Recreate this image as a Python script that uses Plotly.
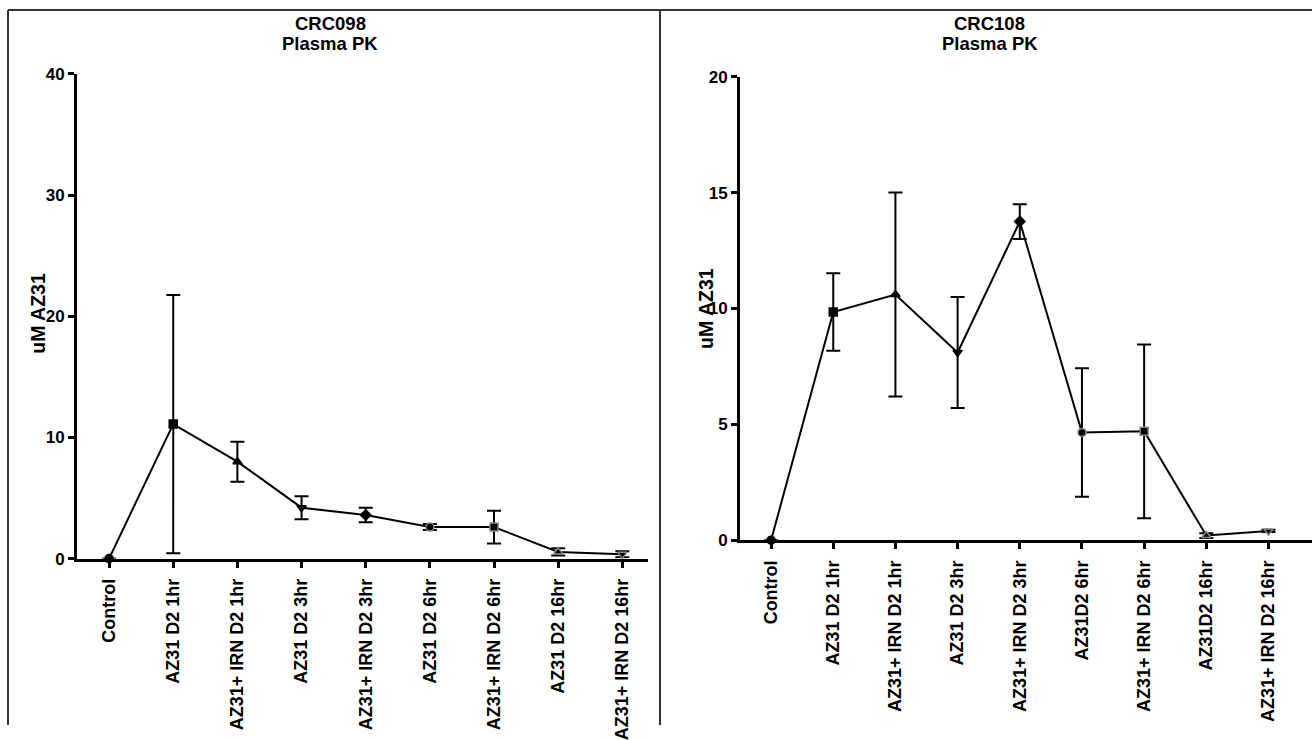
import plotly.graph_objects as go

W, H = 1312, 740

# ---- data ----
left_categories = ["Control", "AZ31 D2 1hr", "AZ31+ IRN D2 1hr", "AZ31 D2 3hr",
                   "AZ31+ IRN D2 3hr", "AZ31 D2 6hr", "AZ31+ IRN D2 6hr",
                   "AZ31 D2 16hr", "AZ31+ IRN D2 16hr"]
left_values = [0.0, 11.1, 8.0, 4.2, 3.6, 2.6, 2.6, 0.55, 0.35]
left_errors = [0.0, 10.65, 1.65, 0.95, 0.6, 0.25, 1.35, 0.3, 0.25]

right_categories = ["Control", "AZ31 D2 1hr", "AZ31+ IRN D2 1hr", "AZ31 D2 3hr",
                    "AZ31+ IRN D2 3hr", "AZ31D2 6hr", "AZ31+ IRN D2 6hr",
                    "AZ31D2 16hr", "AZ31+ IRN D2 16hr"]
right_values = [0.0, 9.85, 10.6, 8.1, 13.75, 4.65, 4.7, 0.2, 0.4]
right_errors = [0.0, 1.67, 4.4, 2.4, 0.75, 2.77, 3.75, 0.1, 0.05]

left_yticks = [0, 10, 20, 30, 40]
right_yticks = [0, 5, 10, 15, 20]

symbols = ["circle", "square", "triangle-up", "triangle-down", "diamond",
           "circle", "square", "triangle-up", "triangle-down"]
outline = ["black"] * 5 + ["#888888"] * 4

FONT = "Liberation Sans, Arial, sans-serif"


def px_x(x):
    return x / W


def px_y(y):
    return 1 - y / H


fig = go.Figure()

for cats, vals, errs, xa, ya in [
    (left_categories, left_values, left_errors, "x", "y"),
    (right_categories, right_values, right_errors, "x2", "y2"),
]:
    fig.add_trace(go.Scatter(
        x=cats, y=vals, xaxis=xa, yaxis=ya,
        mode="lines+markers",
        line=dict(color="black", width=2),
        marker=dict(symbol=symbols, size=8, color="black",
                    line=dict(color=outline, width=1.5)),
        error_y=dict(type="data", array=errs, visible=True,
                     color="black", thickness=2, width=7),
        cliponaxis=False, showlegend=False,
    ))

axis_common = dict(
    showline=True, linecolor="black", linewidth=3,
    ticks="outside", ticklen=6, tickwidth=3, tickcolor="black",
    showgrid=False, zeroline=False,
)
yfont = dict(family=FONT, size=17, color="black", weight="bold")
xfont = dict(family=FONT, size=18, color="black", weight="bold")

fig.update_layout(
    width=W, height=H,
    margin=dict(l=0, r=0, t=0, b=0),
    paper_bgcolor="white", plot_bgcolor="white",
    xaxis=dict(domain=[px_x(77), px_x(648)], anchor="y", type="category",
               range=[-0.5, 8.4], tickangle=-90, tickfont=xfont,
               ticklabelstandoff=4, **axis_common),
    yaxis=dict(domain=[px_y(568), px_y(67)], anchor="x",
               range=[0, 40], tickvals=left_yticks, tickfont=yfont, **axis_common),
    xaxis2=dict(domain=[px_x(740), 1.0], anchor="y2", type="category",
                range=[-0.5, 8.7], tickangle=-90, tickfont=xfont,
                ticklabelstandoff=4, **axis_common),
    yaxis2=dict(domain=[px_y(549), px_y(70)], anchor="x2",
                range=[0, 20], tickvals=right_yticks, tickfont=yfont, **axis_common),
)

# titles
for name, cx in [("CRC098", 330), ("CRC108", 990)]:
    for text, cy in [(name, 14.5), ("Plasma PK", 36)]:
        fig.add_annotation(x=px_x(cx), y=px_y(cy), xref="paper", yref="paper",
                           text=text, showarrow=False, xanchor="center", yanchor="middle",
                           font=dict(family=FONT, size=18.5, color="black", weight="bold"))

# y-axis titles
for cx, cy in [(38, 315), (706, 310)]:
    fig.add_annotation(x=px_x(cx), y=px_y(cy), xref="paper", yref="paper",
                       text="uM AZ31", textangle=-90, showarrow=False,
                       xanchor="center", yanchor="middle",
                       font=dict(family=FONT, size=19.5, color="black", weight="bold"))

# panel frame
frame = dict(type="line", xref="paper", yref="paper",
             line=dict(color="#333333", width=2))
fig.add_shape(x0=px_x(8), x1=1.0, y0=px_y(1), y1=px_y(1), **frame)
fig.add_shape(x0=px_x(8), x1=px_x(8), y0=px_y(1), y1=0, **frame)
fig.add_shape(x0=px_x(660), x1=px_x(660), y0=px_y(1), y1=0, **frame)

fig.write_html(
    "out.html",
    config={"displayModeBar": False},
    post_script=(
        "document.documentElement.style.overflow='hidden';"
        "document.body.style.margin='0';"
        "document.body.style.overflow='hidden';"
    ),
)
